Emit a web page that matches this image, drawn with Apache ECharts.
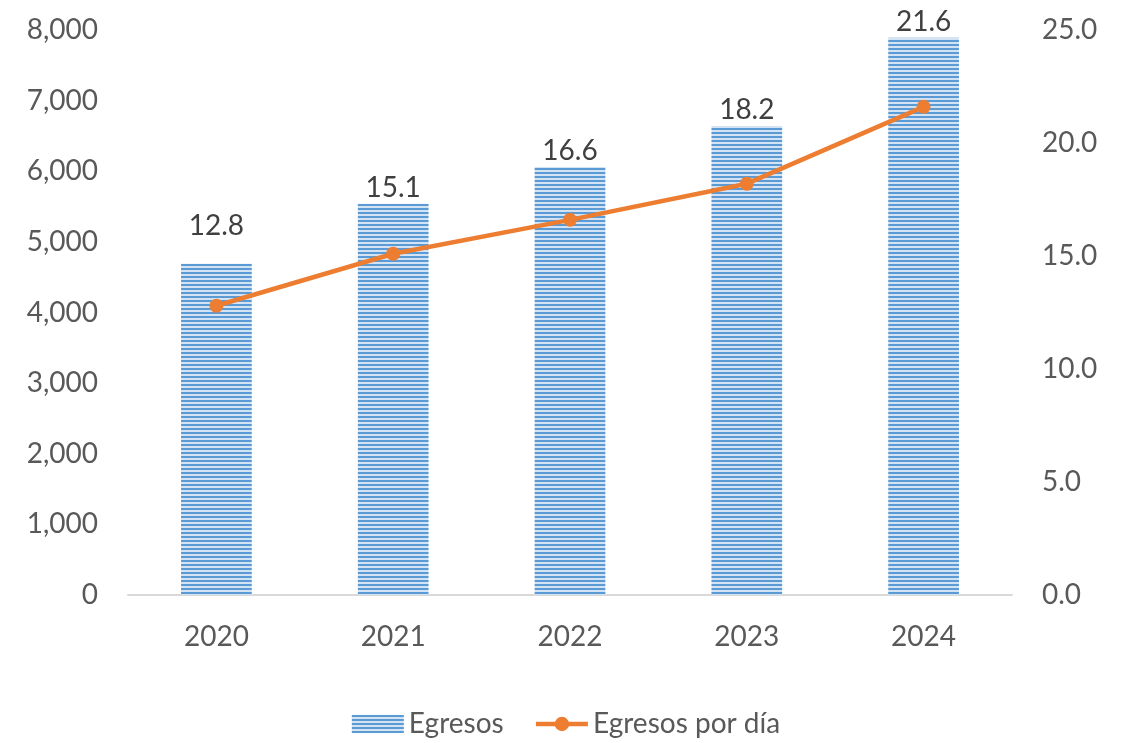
<!DOCTYPE html>
<html>
<head>
<meta charset="utf-8">
<script src="https://cdn.jsdelivr.net/npm/echarts@6/dist/echarts.min.js"></script>
<style>
  html, body { margin: 0; padding: 0; background: #fff; }
  #chart { width: 1132px; height: 743px; }
</style>
</head>
<body>
<div id="chart"></div>
<script>
var years = ["2020", "2021", "2022", "2023", "2024"];
var egresos = [4690, 5540, 6060, 6640, 7890];
var egresosPorDia = [12.8, 15.1, 16.6, 18.2, 21.6];

// striped fill for the bars
var stripe = document.createElement("canvas");
stripe.width = 4;
stripe.height = 4;
var ctx = stripe.getContext("2d");
ctx.fillStyle = "#D3E3F4";
ctx.fillRect(0, 0, 4, 4);
ctx.fillStyle = "#5B9BD5";
ctx.fillRect(0, 0, 4, 2);

var chartDom = document.getElementById("chart");
var myChart = echarts.init(chartDom);
var textColor = "#595959";
var font = "Lato, 'Open Sans', sans-serif";
var fs = 28;

var option = {
  animation: false,
  textStyle: { fontFamily: font },
  grid: { left: 128, right: 120, top: 30, bottom: 148 },
  legend: {
    bottom: 0,
    left: "center",
    itemWidth: 52,
    itemHeight: 18,
    itemGap: 30,
    textStyle: { fontSize: fs, color: textColor, fontFamily: font },
    data: [
      { name: "Egresos", icon: "rect" },
      { name: "Egresos por día", lineStyle: { width: 4.5 } }
    ]
  },
  xAxis: {
    type: "category",
    data: years,
    axisTick: { show: false },
    axisLine: { lineStyle: { color: "#D9D9D9", width: 2 } },
    axisLabel: { fontSize: fs, color: textColor, margin: 28 }
  },
  yAxis: [
    {
      type: "value",
      min: 0,
      max: 8000,
      interval: 1000,
      splitLine: { show: false },
      axisLine: { show: false },
      axisLabel: {
        fontSize: fs,
        color: textColor,
        margin: 30,
        formatter: function (v) { return v.toLocaleString("en-US"); }
      }
    },
    {
      type: "value",
      min: 0,
      max: 25,
      interval: 5,
      splitLine: { show: false },
      axisLine: { show: false },
      axisLabel: {
        fontSize: fs,
        color: textColor,
        margin: 30,
        formatter: function (v) { return v.toFixed(1); }
      }
    }
  ],
  series: [
    {
      name: "Egresos",
      type: "bar",
      barWidth: "40%",
      data: egresos.map(function (v, i) {
        var d = { value: v };
        if (i === 0) d.label = { offset: [0, -22] };
        return d;
      }),
      itemStyle: { color: { image: stripe, repeat: "repeat" } },
      label: {
        show: true,
        position: "top",
        distance: 2,
        fontSize: fs,
        color: "#404040",
        formatter: function (p) { return egresosPorDia[p.dataIndex].toFixed(1); }
      }
    },
    {
      name: "Egresos por día",
      type: "line",
      yAxisIndex: 1,
      data: egresosPorDia,
      symbol: "circle",
      symbolSize: 14,
      lineStyle: { color: "#ED7D31", width: 4.5 },
      itemStyle: { color: "#ED7D31" }
    }
  ]
};

option && myChart.setOption(option);
</script>
</body>
</html>
